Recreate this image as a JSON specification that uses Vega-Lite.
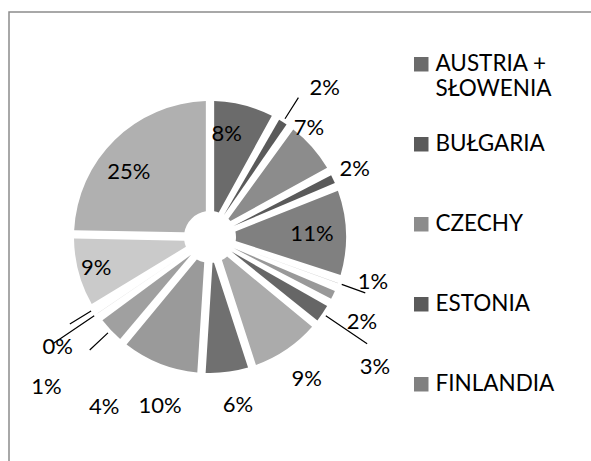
{
  "$schema": "https://vega.github.io/schema/vega-lite/v6.json",
  "width": 600,
  "height": 470,
  "autosize": "none",
  "padding": {"left": 9, "top": 12, "right": 0, "bottom": 0},
  "background": "white",
  "config": {
    "view": {"stroke": "#8c8c8c", "strokeWidth": 1.5},
    "font": "Lato",
    "text": {"fontSize": 22, "font": "Lato", "color": "#000000"},
    "legend": {
      "orient": "none",
      "padding": 0,
      "title": null,
      "symbolType": "square",
      "symbolSize": 210,
      "symbolStrokeWidth": 0,
      "symbolOpacity": 1,
      "labelFont": "Lato",
      "labelFontSize": 22.5,
      "labelColor": "#000000",
      "labelOffset": 3,
      "labelLimit": 200,
      "rowPadding": 57
    }
  },
  "data": {
    "values": [
      {"nr": 1, "kraj": "AUSTRIA + SŁOWENIA", "udzial": 8, "etykieta": "8%"},
      {"nr": 2, "kraj": "BUŁGARIA", "udzial": 2, "etykieta": "2%"},
      {"nr": 3, "kraj": "CZECHY", "udzial": 7, "etykieta": "7%"},
      {"nr": 4, "kraj": "ESTONIA", "udzial": 2, "etykieta": "2%"},
      {"nr": 5, "kraj": "FINLANDIA", "udzial": 11, "etykieta": "11%"},
      {"nr": 6, "kraj": "FRANCJA", "udzial": 1, "etykieta": "1%"},
      {"nr": 7, "kraj": "GRECJA", "udzial": 2, "etykieta": "2%"},
      {"nr": 8, "kraj": "HISZPANIA", "udzial": 3, "etykieta": "3%"},
      {"nr": 9, "kraj": "LITWA", "udzial": 9, "etykieta": "9%"},
      {"nr": 10, "kraj": "ŁOTWA", "udzial": 6, "etykieta": "6%"},
      {"nr": 11, "kraj": "NIEMCY", "udzial": 10, "etykieta": "10%"},
      {"nr": 12, "kraj": "POLSKA", "udzial": 4, "etykieta": "4%"},
      {"nr": 13, "kraj": "PORTUGALIA", "udzial": 1, "etykieta": "1%"},
      {"nr": 14, "kraj": "RUMUNIA", "udzial": 0.3, "etykieta": "0%"},
      {"nr": 15, "kraj": "SŁOWACJA", "udzial": 9, "etykieta": "9%"},
      {"nr": 16, "kraj": "WĘGRY", "udzial": 24.7, "etykieta": "25%"}
    ]
  },
  "encoding": {
    "theta": {"field": "udzial", "type": "quantitative", "stack": true},
    "order": {"field": "nr", "type": "quantitative"},
    "x": {"datum": 0.335, "type": "quantitative", "scale": {"domain": [0, 1]}, "axis": null},
    "y": {"datum": 0.5213, "type": "quantitative", "scale": {"domain": [0, 1]}, "axis": null}
  },
  "layer": [
    {
      "mark": {"type": "arc", "outerRadius": 136, "innerRadius": 26, "padAngle": 0.06},
      "encoding": {
        "color": {
          "field": "kraj",
          "type": "nominal",
          "scale": {
            "domain": ["AUSTRIA + SŁOWENIA", "BUŁGARIA", "CZECHY", "ESTONIA", "FINLANDIA", "FRANCJA", "GRECJA", "HISZPANIA", "LITWA", "ŁOTWA", "NIEMCY", "POLSKA", "PORTUGALIA", "RUMUNIA", "SŁOWACJA", "WĘGRY"],
            "range": ["#6b6b6b", "#5a5a5a", "#8c8c8c", "#5a5a5a", "#808080", "#aaaaaa", "#999999", "#666666", "#ababab", "#707070", "#9a9a9a", "#a0a0a0", "#cfcfcf", "#9c9c9c", "#cacaca", "#b0b0b0"]
          },
          "legend": {
            "values": ["AUSTRIA + SŁOWENIA"],
            "labelExpr": "['AUSTRIA +', 'SŁOWENIA']",
            "legendX": 401,
            "legendY": 41
          }
        }
      }
    },
    {
      "mark": {"type": "arc", "innerRadius": 140, "outerRadius": 165, "padAngle": 3.1416, "stroke": "#000000", "strokeWidth": 1.2},
      "encoding": {
        "fill": {
          "field": "kraj",
          "type": "nominal",
          "scale": {
            "domain": ["BUŁGARIA", "CZECHY", "ESTONIA", "FINLANDIA"],
            "range": ["#5a5a5a", "#8c8c8c", "#5a5a5a", "#808080"]
          },
          "legend": {
            "values": ["BUŁGARIA", "CZECHY", "ESTONIA", "FINLANDIA"],
            "legendX": 401,
            "legendY": 121
          }
        },
        "strokeOpacity": {
          "condition": {"test": "indexof(['BUŁGARIA', 'FRANCJA', 'POLSKA', 'RUMUNIA'], datum.kraj) >= 0", "value": 1},
          "value": 0
        }
      }
    },
    {
      "mark": {"type": "arc", "innerRadius": 140, "outerRadius": 190, "padAngle": 3.1416, "stroke": "#000000", "strokeWidth": 1.2, "fill": "transparent"},
      "encoding": {
        "strokeOpacity": {
          "condition": {"test": "indexof(['HISZPANIA', 'PORTUGALIA'], datum.kraj) >= 0", "value": 1},
          "value": 0
        }
      }
    },
    {
      "mark": {"type": "text", "radius": 104, "thetaOffset": -0.09},
      "encoding": {"text": {"condition": {"test": "datum.kraj == 'AUSTRIA + SŁOWENIA'", "field": "etykieta"}, "value": ""}}
    },
    {
      "mark": {"type": "text", "radius": 102},
      "encoding": {"text": {"condition": {"test": "datum.kraj == 'FINLANDIA'", "field": "etykieta"}, "value": ""}}
    },
    {
      "mark": {"type": "text", "radius": 104, "thetaOffset": -0.12},
      "encoding": {"text": {"condition": {"test": "datum.kraj == 'WĘGRY'", "field": "etykieta"}, "value": ""}}
    },
    {
      "mark": {"type": "text", "radius": 118},
      "encoding": {"text": {"condition": {"test": "datum.kraj == 'SŁOWACJA'", "field": "etykieta"}, "value": ""}}
    },
    {
      "mark": {"type": "text", "radius": 147, "thetaOffset": -0.11},
      "encoding": {"text": {"condition": {"test": "datum.kraj == 'CZECHY'", "field": "etykieta"}, "value": ""}}
    },
    {
      "mark": {"type": "text", "radius": 160},
      "encoding": {"text": {"condition": {"test": "datum.kraj == 'ESTONIA'", "field": "etykieta"}, "value": ""}}
    },
    {
      "mark": {"type": "text", "radius": 172},
      "encoding": {"text": {"condition": {"test": "datum.kraj == 'LITWA'", "field": "etykieta"}, "value": ""}}
    },
    {
      "mark": {"type": "text", "radius": 170, "thetaOffset": -0.04},
      "encoding": {"text": {"condition": {"test": "datum.kraj == 'ŁOTWA'", "field": "etykieta"}, "value": ""}}
    },
    {
      "mark": {"type": "text", "radius": 176, "thetaOffset": -0.09},
      "encoding": {"text": {"condition": {"test": "datum.kraj == 'NIEMCY'", "field": "etykieta"}, "value": ""}}
    },
    {
      "mark": {"type": "text", "radius": 169, "thetaOffset": -0.075},
      "encoding": {"text": {"condition": {"test": "datum.kraj == 'FRANCJA'", "field": "etykieta"}, "value": ""}}
    },
    {
      "mark": {"type": "text", "radius": 174, "thetaOffset": 0.07},
      "encoding": {"text": {"condition": {"test": "datum.kraj == 'GRECJA'", "field": "etykieta"}, "value": ""}}
    },
    {
      "mark": {"type": "text", "radius": 188, "thetaOffset": 0.09},
      "encoding": {"text": {"condition": {"test": "datum.kraj == 'BUŁGARIA'", "field": "etykieta"}, "value": ""}}
    },
    {
      "mark": {"type": "text", "radius": 210, "thetaOffset": 0.07},
      "encoding": {"text": {"condition": {"test": "datum.kraj == 'HISZPANIA'", "field": "etykieta"}, "value": ""}}
    },
    {
      "mark": {"type": "text", "radius": 200, "thetaOffset": -0.26},
      "encoding": {"text": {"condition": {"test": "datum.kraj == 'POLSKA'", "field": "etykieta"}, "value": ""}}
    },
    {
      "mark": {"type": "text", "radius": 222, "thetaOffset": -0.145},
      "encoding": {"text": {"condition": {"test": "datum.kraj == 'PORTUGALIA'", "field": "etykieta"}, "value": ""}}
    },
    {
      "mark": {"type": "text", "radius": 188, "thetaOffset": -0.07},
      "encoding": {"text": {"condition": {"test": "datum.kraj == 'RUMUNIA'", "field": "etykieta"}, "value": ""}}
    }
  ]
}
